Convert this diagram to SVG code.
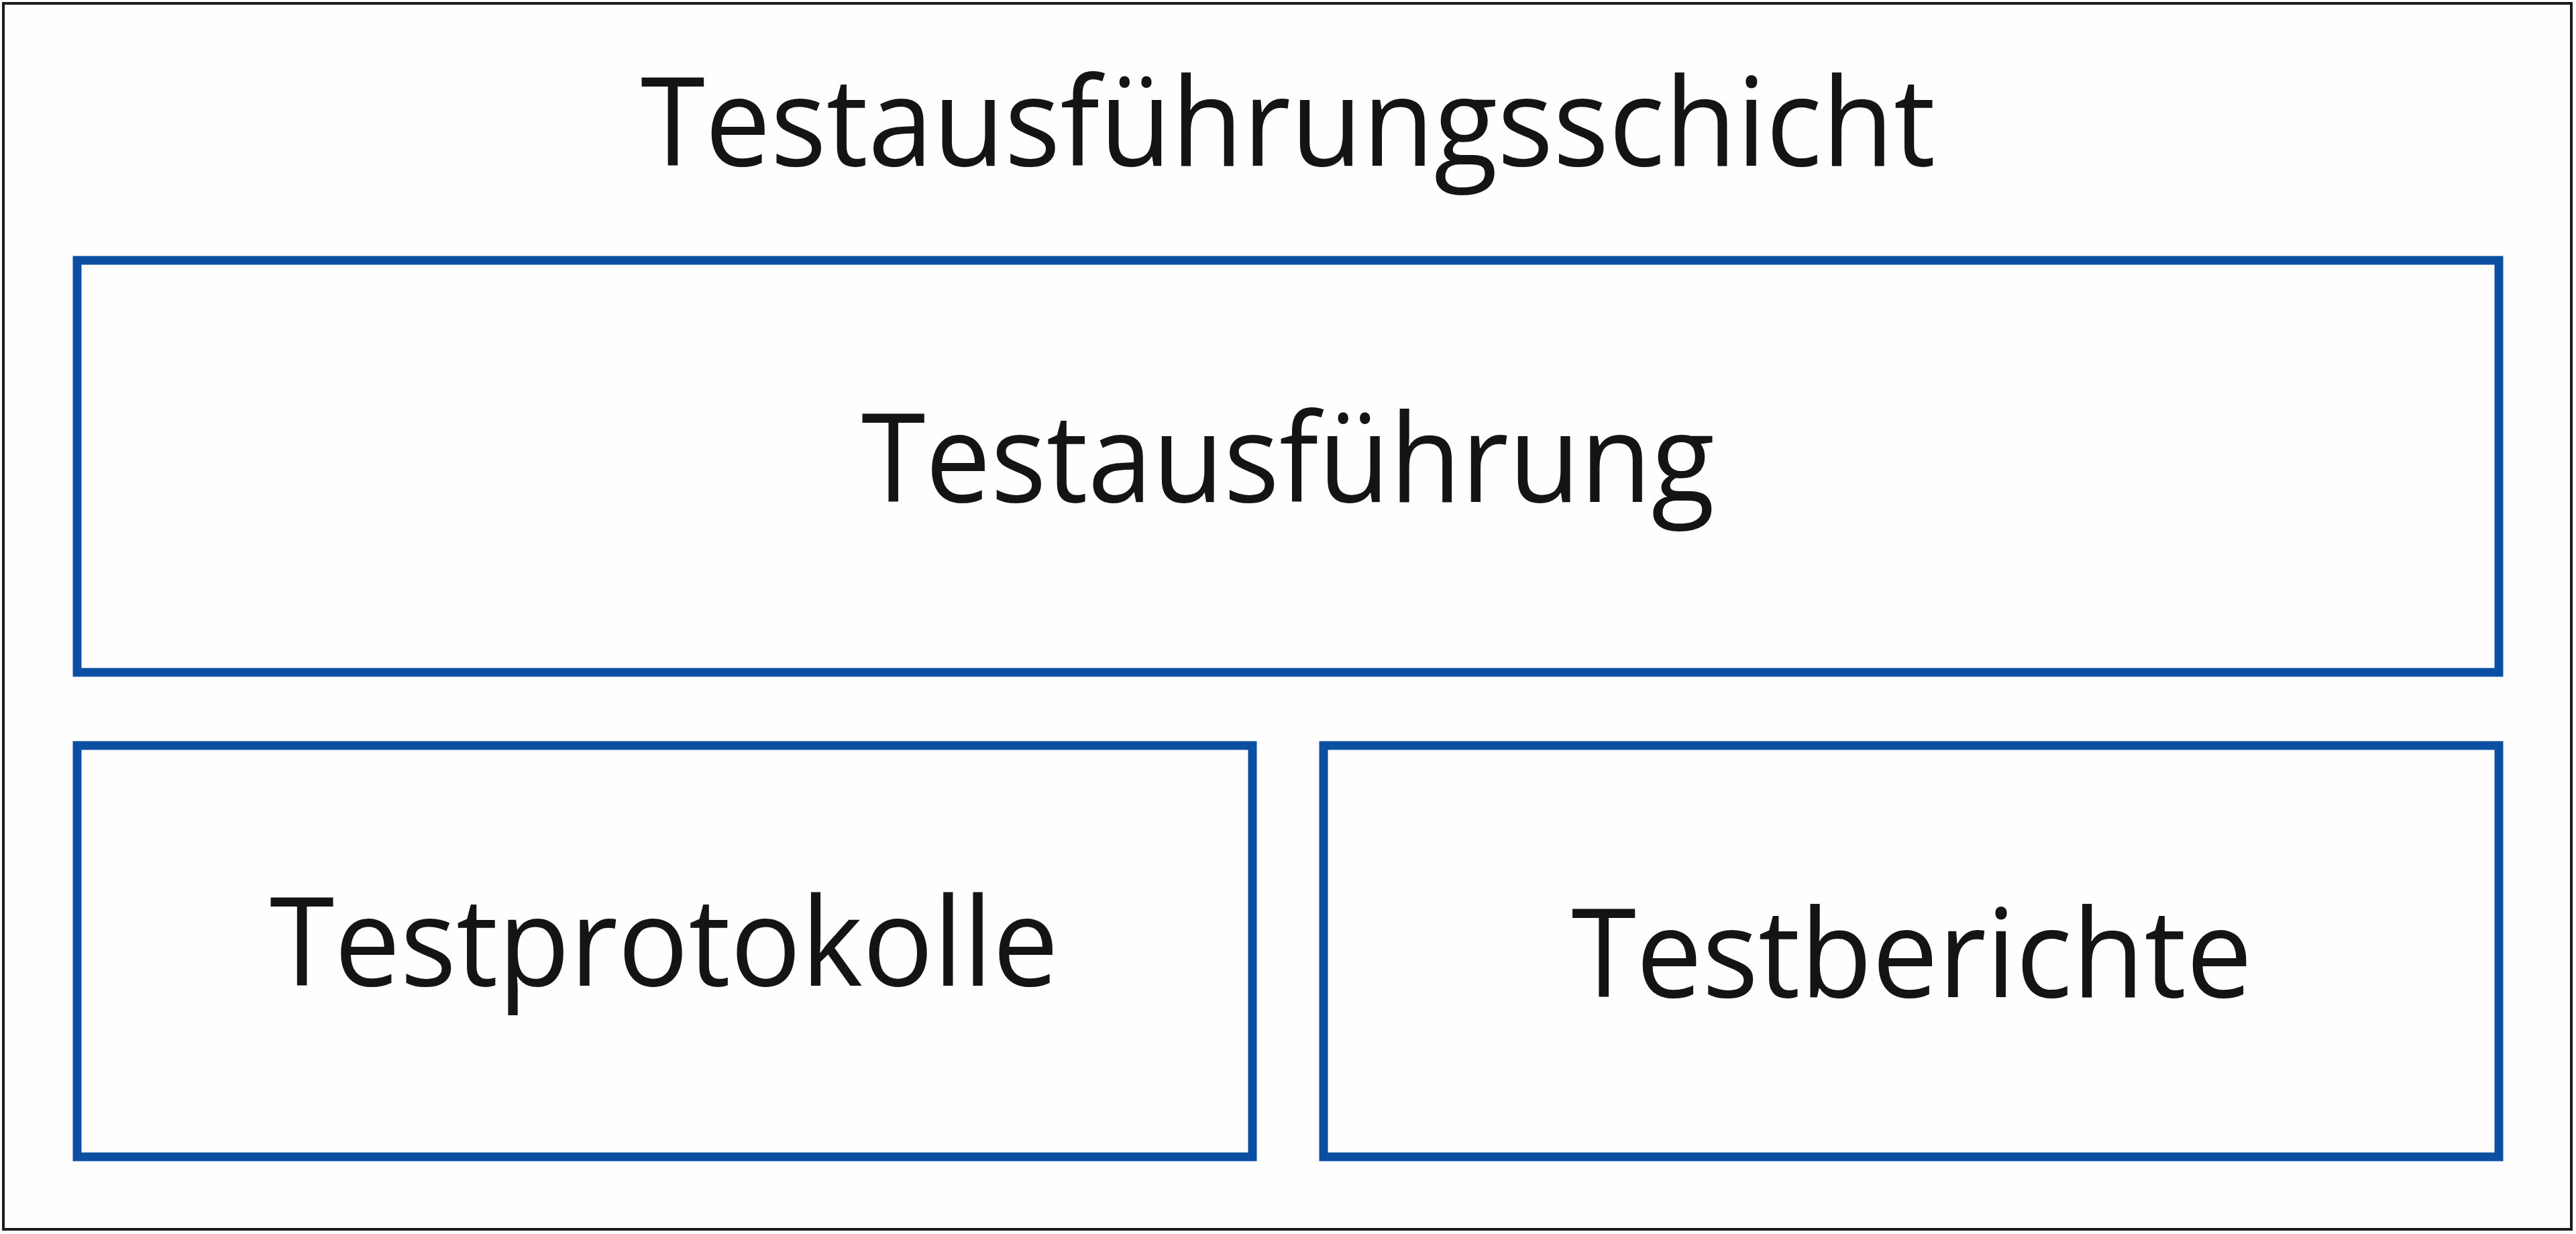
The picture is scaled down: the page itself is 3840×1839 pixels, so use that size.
<svg xmlns="http://www.w3.org/2000/svg" width="3840" height="1839" viewBox="0 0 3840 1839">
  <style>
    .frame { fill: #fefefe; stroke: #1c1c1c; stroke-width: 4; }
    .box { fill: #fefefe; stroke: #0b4fa3; stroke-width: 13; }
    .lbl { font-family: "Open Sans", "Noto Sans", "Liberation Sans", sans-serif; font-size: 183px; fill: #141414; text-anchor: middle; }
  </style>
  <rect x="0" y="0" width="3840" height="1839" fill="#ffffff"/>
  <g id="layer">
    <rect class="frame" x="5" y="5" width="3828" height="1827"/>
    <text class="lbl" x="1920" y="247" textLength="1930" lengthAdjust="spacingAndGlyphs">Testausführungsschicht</text>
  </g>
  <g id="testausfuehrung">
    <rect class="box" x="115" y="388" width="3610" height="614"/>
    <text class="lbl" x="1920" y="748" textLength="1272" lengthAdjust="spacingAndGlyphs">Testausführung</text>
  </g>
  <g id="testprotokolle">
    <rect class="box" x="115" y="1111" width="1752" height="613"/>
    <text class="lbl" x="990" y="1469" textLength="1176" lengthAdjust="spacingAndGlyphs">Testprotokolle</text>
  </g>
  <g id="testberichte">
    <rect class="box" x="1973" y="1111" width="1752" height="613"/>
    <text class="lbl" x="2850" y="1486" textLength="1015" lengthAdjust="spacingAndGlyphs">Testberichte</text>
  </g>
  <g id="connectors"></g>
</svg>
